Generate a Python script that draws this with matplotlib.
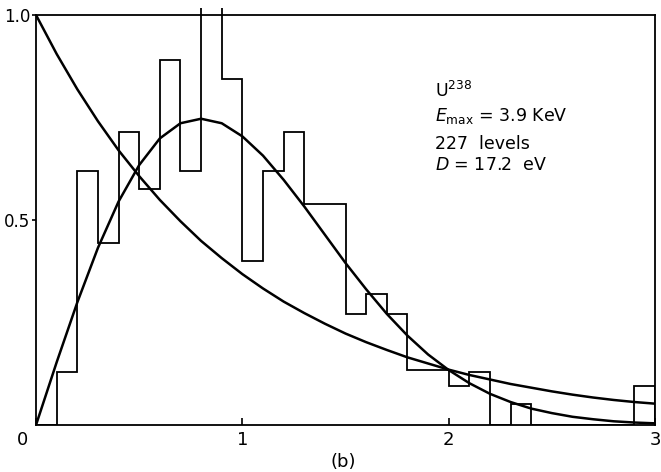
import numpy
import matplotlib
matplotlib.use( "Agg" )
import matplotlib.pyplot as pyplot
import matplotlib.transforms as transforms
from matplotlib.patches import Rectangle


# histogram of nearest neighbour spacings, bins of width 0.1 from 0 to 3
binEdges = numpy.round( numpy.arange( 0.0, 3.01, 0.1 ), 2 )
binHeights = [
    0.0,   0.13,  0.62,  0.445, 0.715, 0.575, 0.89,  0.62,  1.07,  0.845,
    0.40,  0.62,  0.715, 0.54,  0.54,  0.27,  0.32,  0.27,  0.135, 0.135,
    0.095, 0.13,  0.0,   0.05,  0.0,   0.0,   0.0,   0.0,   0.0,   0.095
]

# the two smooth curves, every 0.1
curveX = numpy.round( numpy.arange( 0.0, 3.01, 0.1 ), 2 )
poissonY = [
    1.000, 0.905, 0.819, 0.741, 0.670, 0.607, 0.549, 0.497, 0.449, 0.407,
    0.368, 0.333, 0.301, 0.273, 0.247, 0.223, 0.202, 0.183, 0.165, 0.150,
    0.135, 0.122, 0.111, 0.100, 0.091, 0.082, 0.074, 0.067, 0.061, 0.056,
    0.052
]
wignerY = [
    0.000, 0.153, 0.299, 0.432, 0.545, 0.634, 0.699, 0.736, 0.747, 0.736,
    0.704, 0.657, 0.598, 0.533, 0.464, 0.395, 0.331, 0.271, 0.218, 0.172,
    0.134, 0.102, 0.076, 0.056, 0.040, 0.029, 0.020, 0.014, 0.009, 0.006,
    0.004
]

xTicks = [ 0, 1, 2, 3 ]
xTickLabels = [ "0", "1", "2", "3" ]
yTicks = [ 0.5, 1.0 ]
yTickLabels = [ "0.5", "1.0" ]

infoLines = [
    r"U$^{238}$",
    r"$E_{\mathrm{max}}$ = 3.9 KeV",
    "227  levels",
    r"$D$ = 17.2  eV"
]
infoY = [ 0.80, 0.742, 0.673, 0.622 ]


pyplot.rc( "font", family="DejaVu Sans", size=12 )

textStyle = {
    "color"     : "black",
    "size"      : 12.5
}

figure = pyplot.figure( figsize=( 6.61, 4.72 ), dpi=100 )
axes = figure.add_axes( [ 0.0545, 0.0996, 0.9365, 0.8686 ] )

axes.set_xlim( 0, 3 )
axes.set_ylim( 0, 1.0 )

for spine in axes.spines.values():
    spine.set_linewidth( 1.3 )
    spine.set_color( "black" )

histogram = axes.stairs(
    binHeights, binEdges,
    baseline=0,
    color="black",
    linewidth=1.3
)
# the tall bin pokes a little out of the frame in the original
histogram.set_clip_path( Rectangle( ( 0, 0 ), 3, 1.018, transform=axes.transData ) )

axes.plot( curveX, poissonY, color="black", linewidth=1.8, solid_capstyle="round" )
axes.plot( curveX, wignerY, color="black", linewidth=1.8, solid_capstyle="round" )

axes.set_xticks( xTicks )
axes.set_xticklabels( xTickLabels, fontsize=13 )
axes.set_yticks( yTicks )
axes.set_yticklabels( yTickLabels, fontsize=12 )
axes.tick_params( axis="x", direction="in", length=5, width=1.2, pad=4 )
axes.tick_params( axis="y", direction="out", length=3, width=1.2, pad=1 )

# the "0" sits left of the corner
zeroLabel = axes.get_xticklabels()[0]
zeroLabel.set_transform(
    zeroLabel.get_transform() + transforms.ScaledTranslation( -10 / 72, 0, figure.dpi_scale_trans )
)

for line, yPos in zip( infoLines, infoY ):
    axes.text( 1.934, yPos, line, ha="left", va="baseline", **textStyle )

figure.text( 0.519, 0.022, "(b)", ha="center", va="center", fontsize=13 )

figure.savefig( "out.png", dpi=100 )
